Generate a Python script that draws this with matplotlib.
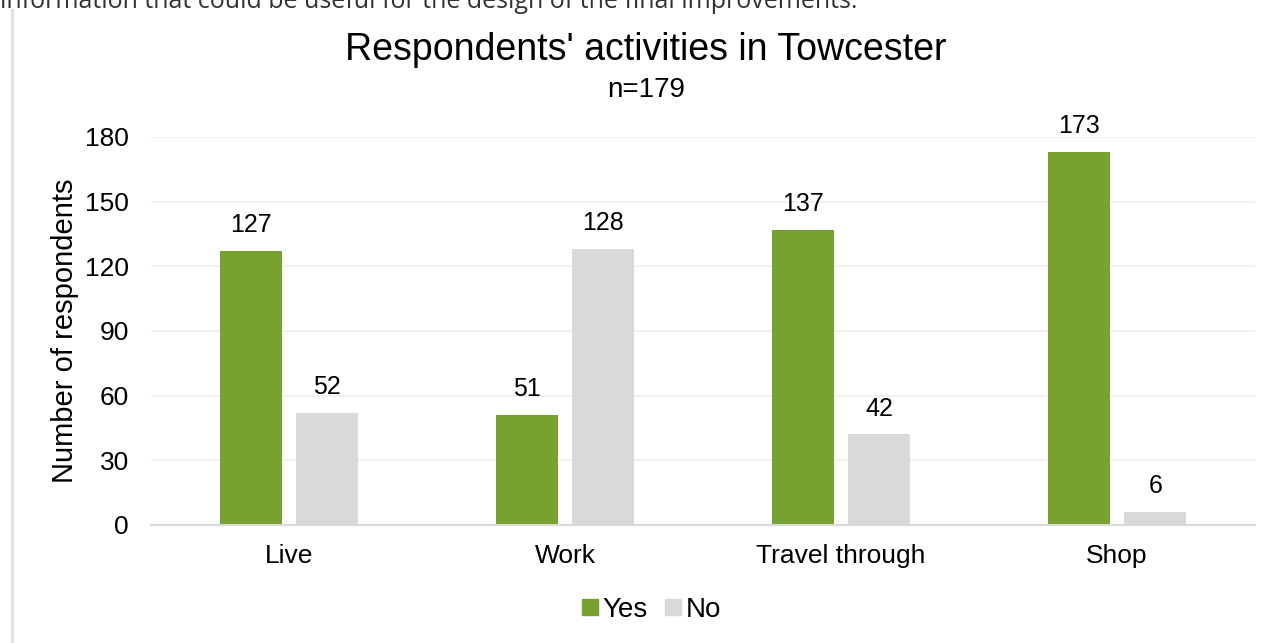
import matplotlib
matplotlib.use("Agg")
import matplotlib.pyplot as plt
from matplotlib.lines import Line2D
import numpy as np

CATEGORIES = ["Live", "Work", "Travel through", "Shop"]
YES = [127, 51, 137, 173]
NO = [52, 128, 42, 6]
Y_TICKS = [0, 30, 60, 90, 120, 150, 180]

GREEN = "#78a22f"
GREY = "#d9d9d9"

plt.rcParams["font.family"] = ["Liberation Sans", "DejaVu Sans"]

fig = plt.figure(figsize=(12.79, 6.43), dpi=100, facecolor="white")
ax = fig.add_axes([151 / 1279, 1 - 525 / 643, 1104 / 1279, 388 / 643])

x = np.arange(len(CATEGORIES))
width = 0.225
off = 0.139
bars_yes = ax.bar(x - off, YES, width, color=GREEN, label="Yes")
bars_no = ax.bar(x + off, NO, width, color=GREY, label="No")

for bars in (bars_yes, bars_no):
    for b in bars:
        ax.annotate(str(int(b.get_height())), (b.get_x() + b.get_width() / 2, b.get_height()),
                    xytext=(0, 10), textcoords="offset points", ha="center", va="bottom",
                    fontsize=18, color="#000000")

ax.set_xlim(-0.5, len(CATEGORIES) - 0.5)
ax.set_ylim(0, 180)
ax.set_yticks(Y_TICKS)
ax.set_xticks(x)
ax.set_xticklabels(CATEGORIES)
ax.tick_params(axis="both", length=0, labelsize=19, colors="#000000")
ax.tick_params(axis="x", pad=14)
ax.tick_params(axis="y", pad=16)
ax.grid(axis="y", color="#efefef", linewidth=1.2)
ax.set_axisbelow(True)
for side in ("top", "right", "left"):
    ax.spines[side].set_visible(False)
ax.spines["bottom"].set_color("#d9d9d9")
ax.spines["bottom"].set_linewidth(1.5)
ax.set_ylabel("Number of respondents", fontsize=21, labelpad=4)

fig.text(646 / 1279, 1 - 50 / 643, "Respondents' activities in Towcester",
         ha="center", va="center", fontsize=27)
fig.text(646 / 1279, 1 - 90 / 643, "n=179", ha="center", va="center", fontsize=20)

handles = [Line2D([], [], marker="s", linestyle="", markersize=11, color=GREEN),
           Line2D([], [], marker="s", linestyle="", markersize=11, color=GREY)]
fig.legend(handles, ["Yes", "No"], loc="center", bbox_to_anchor=(650 / 1279, 1 - 610 / 643),
           ncol=2, frameon=False, fontsize=20, handletextpad=0.05, columnspacing=0.5,
           handlelength=0.8)

# page context from the screenshot: cut-off paragraph and frame line
fig.text(0.0, 1.0 - 2 / 643, "information that could be useful for the design of the final improvements.",
         ha="left", va="center", fontsize=18, color="#333333", family=["Open Sans", "DejaVu Sans"])
fig.add_artist(Line2D([12 / 1279, 12 / 1279], [0, 1 - 10 / 643], color="#dedede", linewidth=2))

fig.savefig("out.png", dpi=100, facecolor="white")
